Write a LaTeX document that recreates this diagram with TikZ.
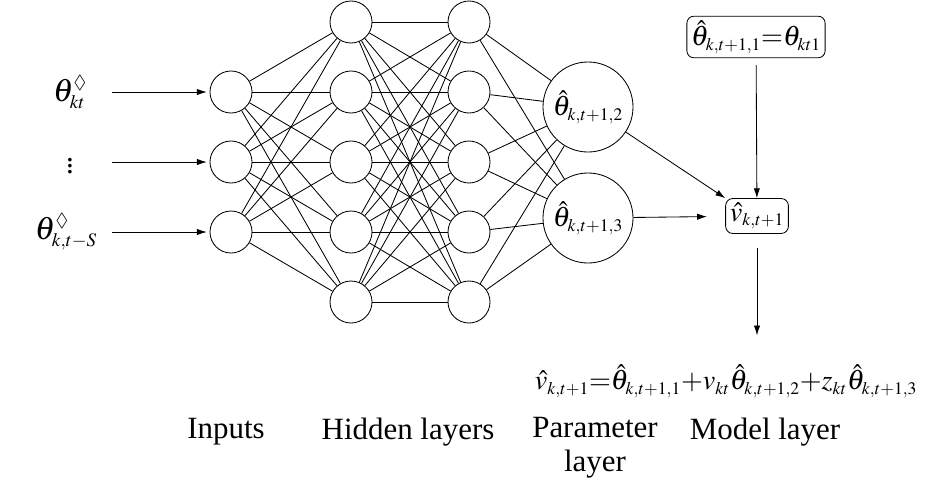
\documentclass[tikz,border=0pt]{standalone}
\usepackage{amsmath}
\usepackage{amssymb}
\usepackage{mathptmx}
\usepackage{fontspec}
\setmainfont{Liberation Serif}
\usetikzlibrary{arrows.meta,positioning}
\DeclareMathSizes{22}{23}{13.5}{10}
\DeclareMathSizes{19}{20}{12.5}{9}

\begin{document}
\begin{tikzpicture}[
    x=0.025cm, y=-0.025cm,
    line width=0.6pt,
    every node/.style={font=\fontsize{22}{24}\selectfont},
    mathtext/.style={font=\fontsize{19}{21}\selectfont},
    neuron/.style={circle, draw, minimum size=1.05cm, inner sep=0pt},
    param/.style={circle, draw, minimum size=2.25cm, inner sep=0pt, mathtext},
    modelbox/.style={rectangle, rounded corners=5pt, draw, inner sep=3pt, mathtext},
    arr/.style={-{Latex[length=7pt,width=4.5pt]}}
]
    \useasboundingbox (0,0) rectangle (945,488);

    % layers of neurons
    \foreach \i/\y in {1/92, 2/162, 3/232}
        \node (in\i) [neuron] at (231,\y) {};
    \foreach \i/\y in {1/22, 2/92, 3/162, 4/232, 5/302} {
        \node (ha\i) [neuron] at (351,\y) {};
        \node (hb\i) [neuron] at (469,\y) {};
    }
    \node (p2) [param] at (588,107) {$\hat{\theta}_{k,t+1,2}$};
    \node (p3) [param] at (588,218) {$\hat{\theta}_{k,t+1,3}$};

    % inputs
    \node (x1) at (70,92) {$\theta^{\Diamond}_{kt}$};
    \node (x2) at (70,162) {$\vdots$};
    \node (x3) at (66,232) {$\theta^{\Diamond}_{k,t-S}$};
    \coordinate (s1) at (112,92);
    \coordinate (s2) at (112,162);
    \coordinate (s3) at (112,232);
    \foreach \i in {1,2,3}
        \draw [arr, shorten >=2pt] (s\i) -- (in\i);

    % full connections
    \foreach \i in {1,2,3}
        \foreach \j in {1,...,5}
            \draw (in\i) -- (ha\j);
    \foreach \i in {1,...,5}
        \foreach \j in {1,...,5}
            \draw (ha\i) -- (hb\j);
    \foreach \i in {1,...,5}
        \foreach \j in {2,3}
            \draw (hb\i) -- (p\j);

    % model layer
    \node (top) [modelbox] at (756,37) {$\hat{\theta}_{k,t+1,1}{=}\theta_{kt1}$};
    \node (vhat) [modelbox] at (757,216) {$\hat{v}_{k,t+1}$};
    \node (eq) [mathtext] at (726,381) {$\hat{v}_{k,t+1}{=}\hat{\theta}_{k,t+1,1}{+}v_{kt}\hat{\theta}_{k,t+1,2}{+}z_{kt}\hat{\theta}_{k,t+1,3}$};

    \draw [arr, shorten <=5pt] (top) -- (vhat);
    \draw [arr] (p2) -- (vhat.north west);
    \draw [arr, shorten >=13pt] (p3) -- (vhat);
    \draw [arr, shorten <=10pt, shorten >=17pt] (vhat) -- (vhat |- eq.north);

    % captions
    \node (capin) at (226,432) {Inputs};
    \node (caphid) at (408,432) {Hidden layers};
    \node (cappar) [align=center] at (595,448) {Parameter\\layer};
    \node (capmod) at (765,432) {Model layer};
\end{tikzpicture}
\end{document}
